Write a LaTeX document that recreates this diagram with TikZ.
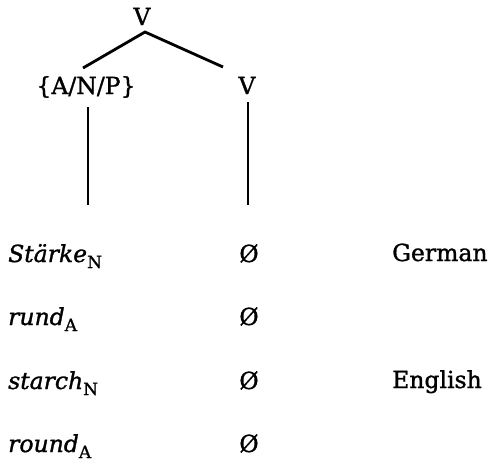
\documentclass[tikz,border=0pt]{standalone}
\usepackage{fontspec}
\setmainfont{DejaVu Serif}[FakeBold=1.2]
\newcommand{\sbn}[1]{\raisebox{-6pt}{\fontsize{17}{17}\selectfont\upshape #1}}
\begin{document}
\begin{tikzpicture}[x=1pt,y=-1pt,
  lbl/.style={inner sep=0pt,font=\fontsize{23.5}{27}\selectfont},
  word/.style={lbl,anchor=base west,font=\fontsize{23.5}{27}\selectfont\itshape},
  zero/.style={lbl,anchor=base},
  lang/.style={lbl,anchor=base west},
  branch/.style={line width=2.8pt}]
\useasboundingbox (0,0) rectangle (495,464);
% tree labels
\node[lbl,anchor=base] (top) at (142,25) {V};
\node[lbl,anchor=base] (lft) at (86,94) {\{A/N/P\}};
\node[lbl,anchor=base] (rgt) at (247,94) {V};
\coordinate (apex) at (145,32);
\coordinate (le) at (83,68);
\coordinate (re) at (223,67);
\draw[branch] (le) -- (apex) -- (re);
\coordinate (lt) at (88,107);
\coordinate (lb) at (88,205);
\coordinate (rt) at (248,102);
\coordinate (rb) at (248,205);
\draw[branch] (lt) -- (lb);
\draw[branch] (rt) -- (rb);
% rows
\node[word] (w1) at (8,262) {Stärke\sbn{N}};
\node[word] (w2) at (8,325) {rund\sbn{A}};
\node[word] (w3) at (8,389) {starch\sbn{N}};
\node[word] (w4) at (8,452) {round\sbn{A}};
\node[zero] (z1) at (249,262) {Ø};
\node[zero] (z2) at (249,325) {Ø};
\node[zero] (z3) at (249,389) {Ø};
\node[zero] (z4) at (249,452) {Ø};
\node[lang] (g) at (392,261) {German};
\node[lang] (e) at (392,388) {English};
\end{tikzpicture}
\end{document}
